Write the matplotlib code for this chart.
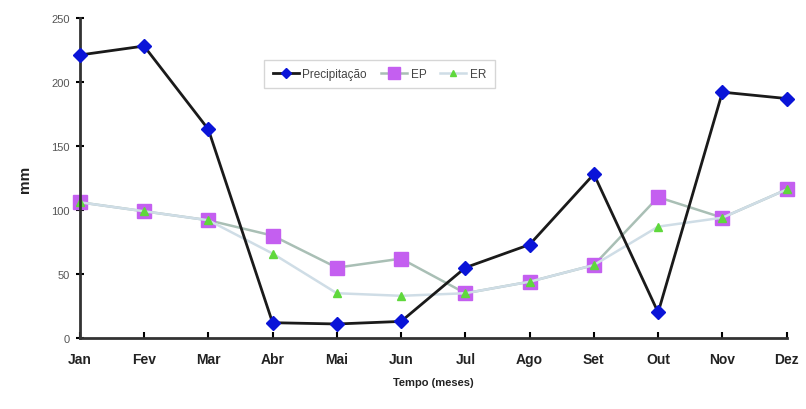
import matplotlib.pyplot as plt
import matplotlib

matplotlib.rcParams['font.family'] = ['Liberation Sans', 'DejaVu Sans']

meses = ['Jan', 'Fev', 'Mar', 'Abr', 'Mai', 'Jun', 'Jul', 'Ago', 'Set', 'Out', 'Nov', 'Dez']
precipitacao = [221, 228, 163, 12, 11, 13, 55, 73, 128, 20, 192, 187]
ep = [106, 99, 92, 80, 55, 62, 35, 44, 57, 110, 94, 116]
er = [106, 99, 92, 66, 35, 33, 35, 44, 57, 87, 94, 116]

fig = plt.figure(figsize=(8.06, 4.10), dpi=100)
ax = fig.add_axes([0.099, 0.173, 0.877, 0.781])

x = list(range(len(meses)))
ax.plot(x, precipitacao, color='#1a1a1a', linewidth=2, marker='D', markersize=7,
        markerfacecolor='#0a14d8', markeredgecolor='#0a14d8', label='Precipitação', zorder=3)
ax.plot(x, ep, color='#a9bfb5', linewidth=1.8, marker='s', markersize=10,
        markerfacecolor='#c45ff0', markeredgecolor='#c45ff0', label='EP', zorder=2)
ax.plot(x, er, color='#cfdde6', linewidth=1.8, marker='^', markersize=6,
        markerfacecolor='#5fd83c', markeredgecolor='#5fd83c', label='ER', zorder=2.5)

ax.set_xlim(0, 11)
ax.set_ylim(0, 250)
ax.set_xticks(x)
ax.set_xticklabels(meses, fontsize=10, fontweight='bold', color='#222222')
ax.set_yticks([0, 50, 100, 150, 200, 250])
ax.tick_params(axis='y', direction='inout', length=6, width=1.5, labelsize=8, labelcolor='#555555', pad=4)
ax.tick_params(axis='x', direction='in', length=4, width=1.5, pad=10)

for s in ['top', 'right']:
    ax.spines[s].set_visible(False)
for s in ['left', 'bottom']:
    ax.spines[s].set_linewidth(2)
    ax.spines[s].set_color('#333333')
    ax.spines[s].set_clip_on(False)
for line in ax.get_lines():
    line.set_clip_on(False)

ax.set_xlabel('Tempo (meses)', fontsize=8, fontweight='bold', color='#222222', labelpad=8)
ax.set_ylabel('mm', fontsize=11, fontweight='bold', color='#222222', labelpad=14)

leg = ax.legend(loc='center', bbox_to_anchor=(0.424, 0.825), ncol=3, frameon=True,
                fancybox=False, edgecolor='#cccccc', fontsize=8.5, handlelength=2.2,
                handletextpad=0.3, columnspacing=1.2, borderpad=0.7, markerscale=0.8)
for t in leg.get_texts():
    t.set_color('#444444')

fig.savefig('out.png', dpi=100)
